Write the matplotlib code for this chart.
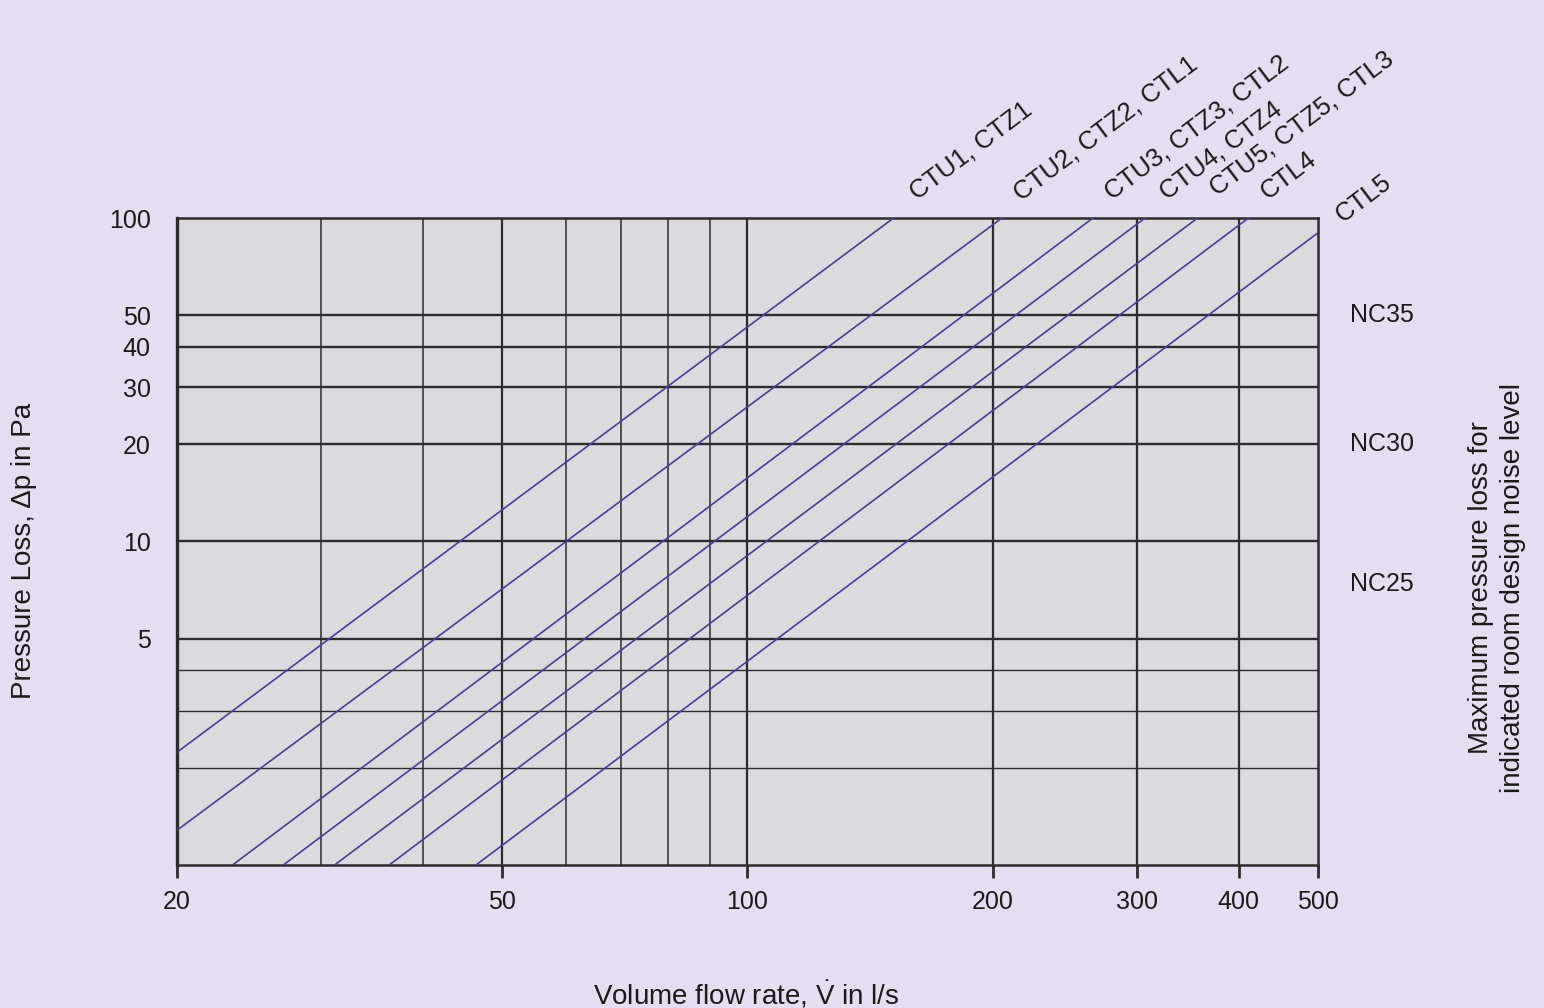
import matplotlib
matplotlib.use("Agg")
import matplotlib.pyplot as plt
import matplotlib.transforms as mtransforms

# Kennlinien: Anfangs- und Endpunkt jeder Geraden (V in l/s, dp in Pa)
line_labels = ["CTU1, CTZ1", "CTU2, CTZ2, CTL1", "CTU3, CTZ3, CTL2", "CTU4, CTZ4",
               "CTU5, CTZ5, CTL3", "CTL4", "CTL5"]
flow_start = [20, 20, 23.4, 27.0, 31.2, 36.4, 46.5]
dp_start = [2.23, 1.28, 1.0, 1.0, 1.0, 1.0, 1.0]
flow_end = [151, 205, 265, 307, 356, 411, 500]
dp_end = [100, 100, 100, 100, 100, 100, 90]

# Schallpegel-Grenzen
nc_labels = ["NC35", "NC30", "NC25"]
nc_values = [50, 20, 7.4]

# Achsen
x_ticks = [20, 50, 100, 200, 300, 400, 500]
x_major_grid = [50, 100, 200, 300, 400]
x_minor_grid = [30, 40, 60, 70, 80, 90]
y_ticks = [5, 10, 20, 30, 40, 50, 100]
y_major_grid = [5, 10, 20, 30, 40, 50]
y_minor_grid = [2, 3, 4]


def main():
    plt.rcParams['font.family'] = ['Liberation Sans', 'DejaVu Sans']
    plt.rcParams['mathtext.fontset'] = 'custom'
    plt.rcParams['mathtext.rm'] = 'Liberation Sans'
    plt.rcParams['mathtext.it'] = 'Liberation Sans:italic'
    text_color = '#1a1a1a'
    grid_color = '#2e2a2e'
    line_color = '#4a3c9c'

    fig = plt.figure(figsize=(15.44, 10.08), dpi=100, facecolor='#e5def2')
    ax = fig.add_axes([0.1146, 0.1419, 0.7390, 0.6418])
    ax.set_facecolor('#dbdadd')
    ax.set_xscale('log')
    ax.set_yscale('log')
    ax.set_xlim(20, 500)
    ax.set_ylim(1, 100)

    # Gitter
    for v in x_minor_grid:
        ax.axvline(v, color=grid_color, lw=1.1, zorder=1)
    for v in x_major_grid:
        ax.axvline(v, color=grid_color, lw=1.6, zorder=1)
    for v in y_minor_grid:
        ax.axhline(v, color=grid_color, lw=1.0, zorder=1)
    for v in y_major_grid:
        ax.axhline(v, color=grid_color, lw=1.7, zorder=1)

    # Kennlinien
    offsets = [(17, 13), (14, 12), (14, 13), (16, 13), (14, 16), (14, 13), (18, 7)]
    for i in range(len(line_labels)):
        ax.plot([flow_start[i], flow_end[i]], [dp_start[i], dp_end[i]],
                color=line_color, lw=1.2, zorder=3)
        ax.annotate(line_labels[i], xy=(flow_end[i], dp_end[i]),
                    xytext=offsets[i], textcoords='offset points',
                    rotation=37, rotation_mode='anchor', ha='left', va='baseline',
                    fontsize=18.5, color=text_color, annotation_clip=False)

    for side in ['top', 'right', 'bottom']:
        ax.spines[side].set_linewidth(1.8)
        ax.spines[side].set_color(grid_color)
    ax.spines['left'].set_linewidth(2.4)
    ax.spines['left'].set_color(grid_color)

    ax.set_xticks(x_ticks)
    ax.set_xticklabels([str(v) for v in x_ticks])
    ax.set_yticks(y_ticks)
    ax.set_yticklabels([str(v) for v in y_ticks])
    ax.minorticks_off()
    ax.tick_params(axis='x', length=9, width=2, color=grid_color, pad=9,
                   labelsize=18, labelcolor=text_color)
    ax.tick_params(axis='y', length=0, pad=19, labelsize=18, labelcolor=text_color)

    # NC-Beschriftung rechts
    trans = mtransforms.blended_transform_factory(ax.transAxes, ax.transData)
    for lab, val in zip(nc_labels, nc_values):
        ax.text(1.028, val, lab, transform=trans, ha='left', va='center',
                fontsize=18, color=text_color)

    ax.set_xlabel(r'Volume flow rate, $\dot{\mathrm{V}}$ in l/s', fontsize=20, color=text_color)
    ax.xaxis.set_label_coords(0.4987, -0.176)
    ax.set_ylabel('Pressure Loss, Δp in Pa', fontsize=20, color=text_color)
    ax.yaxis.set_label_coords(-0.123, 0.485)

    fig.text(0.9696, 0.4167, 'Maximum pressure loss for\nindicated room design noise level',
             rotation=90, ha='center', va='center', fontsize=20, color=text_color,
             linespacing=1.3, multialignment='center')

    fig.savefig('out.png', dpi=100, facecolor=fig.get_facecolor())


if __name__ == "__main__":
    main()
